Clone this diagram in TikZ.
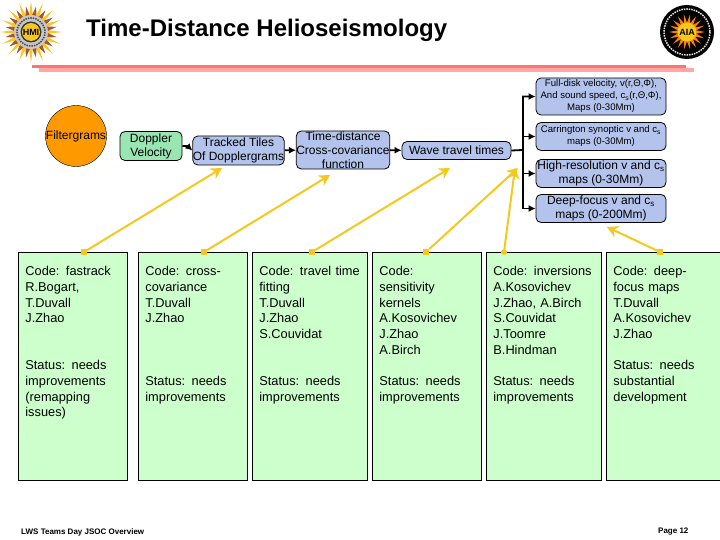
\documentclass[tikz,border=0pt]{standalone}
\usepackage{fontspec}
\setmainfont{Liberation Sans}
\usepackage{tikz}
\usetikzlibrary{arrows.meta}
\definecolor{sunorange}{RGB}{255,153,0}
\definecolor{dopgreen}{RGB}{153,230,179}
\definecolor{tileblue}{RGB}{179,195,236}
\definecolor{codegreen}{RGB}{204,255,204}
\definecolor{pinyellow}{RGB}{245,200,30}
\definecolor{raybrown}{RGB}{170,85,50}
\newcommand{\codetext}[1]{\begin{minipage}[t][228pt][t]{\linewidth}\raggedright\vspace*{14pt}#1\end{minipage}}
\tikzset{
	x=1pt, y=-1pt,
	flowbox/.style={
		draw, rounded corners=5pt, align=center, inner sep=0pt,
		font=\fontsize{12}{14.2}\selectfont, line width=0.8pt
	},
	dopbox/.style={flowbox, fill=dopgreen},
	tilebox/.style={flowbox, fill=tileblue},
	smallbox/.style={tilebox, font=\fontsize{9.6}{12}\selectfont},
	codebox/.style={
		draw, fill=codegreen, anchor=north west, inner ysep=0pt, inner xsep=7pt,
		text width=#1, line width=0.8pt,
		font=\fontsize{12.8}{15.7}\selectfont
	},
	flow/.style={-{Latex[length=7pt,width=7pt]}, line width=1.8pt},
	pin/.style={fill=pinyellow, inner sep=0pt, minimum size=6pt},
	pinline/.style={-{Stealth[length=11pt,width=12pt]}, pinyellow, line width=2pt},
	footer/.style={font=\fontsize{8}{9}\selectfont\bfseries, inner sep=0pt}
}
\begin{document}
\begin{tikzpicture}
	\useasboundingbox (0,0) rectangle (720,540);
	\clip (0,0) rectangle (720,540);
	% title
	\node[font=\fontsize{24}{28}\selectfont\bfseries, anchor=west, inner sep=0pt] (title) at (86,30) {Time-Distance Helioseismology};
	\fill[red!35] (39,68.5) rectangle (694,72);
	\fill[red!55!white] (32,65) rectangle (686,68.5);
	% left logo
	\begin{scope}[shift={(31,32)}]
		\foreach \a in {0,22.5,...,337.5} {
			\fill[pinyellow] (\a-7:16) -- (\a:31) -- (\a+7:16) -- cycle;
			\fill[raybrown] (\a+11.25-9:16) -- (\a+11.25:26) -- (\a+11.25+9:16) -- cycle;
		}
		\fill[gray!45] (0,0) circle (17);
		\draw[black!70, densely dotted, line width=1.5pt] (0,0) circle (14);
		\fill[black!80] (0,0) circle (10.5);
		\fill[pinyellow] (0,0) circle (9);
		\node[font=\fontsize{9}{10}\selectfont\bfseries, inner sep=0pt] (hmi) at (0,0) {HMI};
	\end{scope}
	% right logo
	\begin{scope}[shift={(687,32)}]
		\fill[black] (0,0) circle (27);
		\draw[white!80!gray, densely dotted, line width=1.5pt] (0,0) circle (23);
		\foreach \a in {0,20,...,340} {
			\fill[orange] (\a-14:8) -- (\a:18) -- (\a+14:8) -- cycle;
		}
		\fill[pinyellow] (0,0) circle (9.5);
		\node[font=\fontsize{9}{10}\selectfont\bfseries, inner sep=0pt] (aia) at (0,0) {AIA};
	\end{scope}
	% pipeline
	\node[draw, circle, fill=sunorange, minimum size=57pt, inner sep=0pt, font=\fontsize{12}{14}\selectfont] (filter) at (76,136) {Filtergrams};
	\node[dopbox, minimum width=62pt, minimum height=29pt] (doppler) at (151,146) {Doppler\\Velocity};
	\node[tilebox, minimum width=85pt, minimum height=29pt] (tracked) at (238.5,150.5) {Tracked Tiles\\Of Dopplergrams};
	\node[tilebox, minimum width=92pt, minimum height=38pt] (timedist) at (343,150) {Time-distance\\Cross-covariance\\function};
	\node[tilebox, minimum width=109pt, minimum height=18pt] (wave) at (456.5,150.5) {Wave travel times};
	\node[smallbox, minimum width=130pt, minimum height=37pt] (fulldisk) at (601,96.5) {Full-disk velocity, v(r,Θ,Φ),\\And sound speed, c\textsubscript{s}(r,Θ,Φ),\\Maps (0-30Mm)};
	\node[smallbox, minimum width=130pt, minimum height=28pt] (carrington) at (601,136.5) {Carrington synoptic v and c\textsubscript{s}\\maps (0-30Mm)};
	\node[tilebox, minimum width=130pt, minimum height=28pt] (highres) at (601,173.5) {High-resolution v and c\textsubscript{s}\\maps (0-30Mm)};
	\node[tilebox, minimum width=130pt, minimum height=28pt] (deep) at (601,208.5) {Deep-focus v and c\textsubscript{s}\\maps (0-200Mm)};
	\coordinate (bus) at (523,150);
	\draw[flow] (doppler.east) -- ++(5,0) -- (tracked.west);
	\draw[flow] (tracked) -- (timedist);
	\draw[flow] (timedist) -- (wave);
	\draw[flow] (wave.east) -- (bus) |- (fulldisk.west);
	\draw[flow] (bus) |- (carrington.west);
	\draw[flow] (bus) |- (highres.west);
	\draw[flow] (bus) |- (deep.west);
	% code boxes
	\node[codebox=95pt] (codeA) at (18,252) {\codetext{Code: fastrack\\R.Bogart,\\T.Duvall\\J.Zhao\\~\\~\\Status: needs\\improvements\\(remapping\\issues)}};
	\node[codebox=95pt] (codeB) at (138,252) {\codetext{Code: cross-\\covariance\\T.Duvall\\J.Zhao\\~\\~\\~\\Status: needs\\improvements}};
	\node[codebox=101pt] (codeC) at (252,252) {\codetext{Code: travel time\\fitting\\T.Duvall\\J.Zhao\\S.Couvidat\\~\\~\\Status: needs\\improvements}};
	\node[codebox=95pt] (codeD) at (372,252) {\codetext{Code:\\sensitivity\\kernels\\A.Kosovichev\\J.Zhao\\A.Birch\\~\\Status: needs\\improvements}};
	\node[codebox=101pt] (codeE) at (486,252) {\codetext{Code: inversions\\A.Kosovichev\\J.Zhao, A.Birch\\S.Couvidat\\J.Toomre\\B.Hindman\\~\\Status: needs\\improvements}};
	\node[codebox=106pt] (codeF) at (606,252) {\codetext{Code: deep-\\focus maps\\T.Duvall\\A.Kosovichev\\J.Zhao\\~\\Status: needs\\substantial\\development}};
	% pins
	\node[pin] (pinA) at (84,252) {};
	\node[pin] (pinB) at (204,252) {};
	\node[pin] (pinC) at (312,252) {};
	\node[pin] (pinD) at (426,252) {};
	\node[pin, circle] (pinE) at (504,252) {};
	\node[pin] (pinF) at (660,252) {};
	\coordinate (tipA) at (222,168);
	\coordinate (tipB) at (330,175);
	\coordinate (tipC) at (450,168);
	\coordinate (tipD) at (518,168);
	\coordinate (tipE) at (515,168);
	\coordinate (tipF) at (607,227);
	\draw[pinline] (pinA) -- (tipA);
	\draw[pinline] (pinB) -- (tipB);
	\draw[pinline] (pinC) -- (tipC);
	\draw[pinline] (pinD) -- (tipD);
	\draw[pinline] (pinE) -- (tipE);
	\draw[pinline] (pinF) -- (tipF);
	% footer
	\node[footer, anchor=west] (lws) at (21,532) {LWS Teams Day JSOC Overview};
	\node[footer, anchor=west] (page) at (658,532) {Page 12};
\end{tikzpicture}
\end{document}
